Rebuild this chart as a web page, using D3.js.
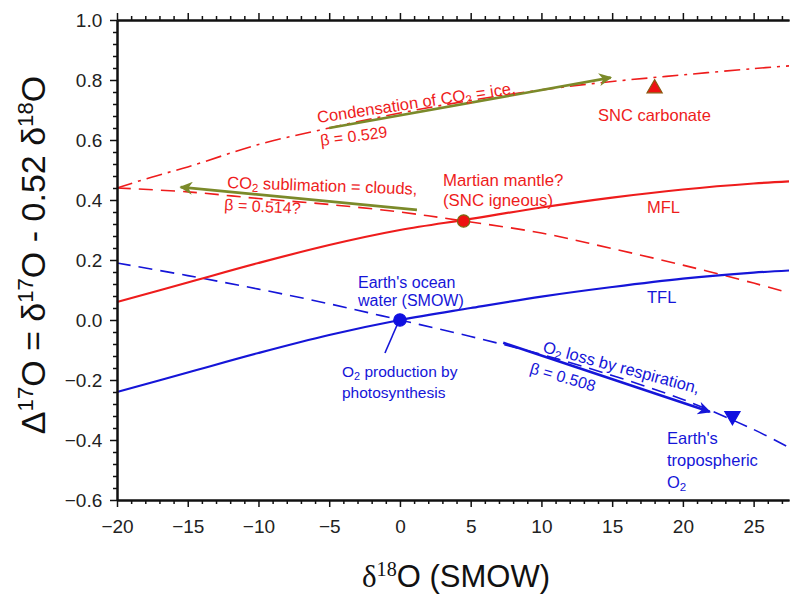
<!DOCTYPE html>
<html>
<head>
<meta charset="utf-8">
<script src="https://cdn.jsdelivr.net/npm/d3@7"></script>
<style>
  body{margin:0;background:#fff}
  svg{display:block}
  text{font-family:"Liberation Sans",Arial,sans-serif}
</style>
</head>
<body>
<svg id="chart" width="792" height="597"></svg>
<script>
// curves: [d18O, D17O]
const mfl = [[-20,0.06],[-15,0.125],[-10,0.19],[-5,0.25],[0,0.30],[5,0.337],[10,0.375],[15,0.408],[20,0.435],[25,0.455],[27.5,0.462]]
const tfl = [[-20,-0.24],[-15,-0.175],[-10,-0.11],[-5,-0.05],[0,0],[5,0.04],[10,0.078],[15,0.11],[20,0.138],[25,0.158],[27.5,0.165]]
const respiration = [[-20,0.19],[-15,0.148],[-10,0.103],[-5,0.054],[0,0],[5,-0.055],[10,-0.115],[15,-0.185],[20,-0.265],[25,-0.365],[27.5,-0.425]]
const sublimation = [[-20,0.44],[-15,0.427],[-10,0.405],[-5,0.385],[0,0.36],[4.5,0.33],[10,0.29],[15,0.238],[20,0.183],[25,0.123],[27.5,0.09]]
const condensation = [[-20,0.44],[-17.5,0.477],[-15,0.51],[-10,0.585],[-5,0.64],[0,0.69],[5,0.732],[10,0.767],[15,0.795],[20,0.817],[25,0.838],[27.5,0.847]]

const xTicks = [-20,-15,-10,-5,0,5,10,15,20,25]
const yTicks = [-0.6,-0.4,-0.2,0.0,0.2,0.4,0.6,0.8,1.0]

const points = [
  {x:0, y:0, shape:'circle', fill:'#1010e0', stroke:'#1010e0'},
  {x:4.5, y:0.33, shape:'circle', fill:'#ee1111', stroke:'#7a6a10'},
  {x:18, y:0.772, shape:'triangle', fill:'#ee1111', stroke:'#8a5a10'},
  {x:23.5, y:-0.32, shape:'triangleDown', fill:'#1010e0', stroke:'#1010e0'}
]

// process arrows [from, to]
const arrows = [
  {from:[-5,0.64], to:[14.9,0.808], color:'#7b8a2a'},
  {from:[1.2,0.367], to:[-15.5,0.443], color:'#7b8a2a'},
  {from:[7.3,-0.076], to:[21.9,-0.306], color:'#1515d8'}
]

const red = '#ee1c1c', blue = '#1515d8'
const svg = d3.select('#chart')
const x = d3.scaleLinear().domain([-20,27.5]).range([117,789])
const y = d3.scaleLinear().domain([-0.6,1.0]).range([500,20])

const line = d3.line().x(d=>x(d[0])).y(d=>y(d[1])).curve(d3.curveCatmullRom)

const defs = svg.append('defs')
arrows.forEach((a,i)=>{
  defs.append('marker').attr('id','ah'+i).attr('viewBox','0 0 10 10')
    .attr('refX',9).attr('refY',5).attr('markerWidth',6.5).attr('markerHeight',5)
    .attr('markerUnits','strokeWidth').attr('orient','auto')
    .append('path').attr('d','M0,0 L10,5 L0,10 L3,5 Z').attr('fill',a.color)
})

const g = svg.append('g')
g.append('path').datum(condensation).attr('d',line).attr('fill','none').attr('stroke',red).attr('stroke-width',1.6).attr('stroke-dasharray','16,6,3,6')
g.append('path').datum(sublimation).attr('d',line).attr('fill','none').attr('stroke',red).attr('stroke-width',1.6).attr('stroke-dasharray','14,8')
g.append('path').datum(respiration).attr('d',line).attr('fill','none').attr('stroke',blue).attr('stroke-width',1.6).attr('stroke-dasharray','14,8')
g.append('path').datum(mfl).attr('d',line).attr('fill','none').attr('stroke',red).attr('stroke-width',2.2)
g.append('path').datum(tfl).attr('d',line).attr('fill','none').attr('stroke',blue).attr('stroke-width',2.2)

arrows.forEach((a,i)=>{
  g.append('line').attr('x1',x(a.from[0])).attr('y1',y(a.from[1])).attr('x2',x(a.to[0])).attr('y2',y(a.to[1]))
    .attr('stroke',a.color).attr('stroke-width',2.6).attr('marker-end','url(#ah'+i+')')
})

// leader line to photosynthesis label
g.append('line').attr('x1',x(0)-2).attr('y1',y(0)+3).attr('x2',x(0)-15).attr('y2',y(0)+33).attr('stroke',blue).attr('stroke-width',1.6)

const sym = {circle:d3.symbolCircle, triangle:d3.symbolTriangle, triangleDown:d3.symbolTriangle}
points.forEach(p=>{
  g.append('path').attr('d',d3.symbol().type(sym[p.shape]).size(p.shape==='circle'?120:100)())
    .attr('transform',`translate(${x(p.x)},${y(p.y)})${p.shape==='triangleDown'?' rotate(180)':''}`)
    .attr('fill',p.fill).attr('stroke',p.stroke).attr('stroke-width',1.2)
})

// axes
const tickFont = 19
const minorX = d3.range(-20,28,1).filter(v=>v%5!==0)
const minorY = d3.range(-0.6,1.0001,0.04).filter(v=>Math.abs(Math.round(v*5)-v*5)>1e-6)

const axBottom = svg.append('g').attr('transform','translate(0,500)')
axBottom.call(d3.axisBottom(x).tickValues(xTicks).tickSize(7).tickSizeOuter(0).tickFormat(d3.format('d')))
axBottom.append('g').call(d3.axisBottom(x).tickValues(minorX).tickSize(4).tickSizeOuter(0).tickFormat(''))
const axTop = svg.append('g').attr('transform','translate(0,20)')
axTop.call(d3.axisTop(x).tickValues(xTicks).tickSize(7).tickSizeOuter(0).tickFormat(''))
axTop.append('g').call(d3.axisTop(x).tickValues(minorX).tickSize(4).tickSizeOuter(0).tickFormat(''))
const axLeft = svg.append('g').attr('transform','translate(117,0)')
axLeft.call(d3.axisLeft(y).tickValues(yTicks).tickSize(7).tickSizeOuter(0).tickFormat(d3.format('.1f')))
axLeft.append('g').call(d3.axisLeft(y).tickValues(minorY).tickSize(4).tickSizeOuter(0).tickFormat(''))

svg.selectAll('.domain').attr('stroke','#111').attr('stroke-width',2)
svg.selectAll('.tick line').attr('stroke','#111').attr('stroke-width',1.5)
svg.selectAll('.tick text').attr('font-size',tickFont).attr('fill','#222').attr('font-family','"Liberation Sans",Arial,sans-serif')
axBottom.selectAll('.tick text').attr('dy','1.2em')
axLeft.selectAll('.tick text').attr('dx','-0.25em')

// annotations
function label(txt, px, py, color, opts={}){
  const t = svg.append('text').attr('x',px).attr('y',py).attr('fill',color)
    .attr('font-size',opts.size||16.5).attr('text-anchor',opts.anchor||'start')
  if(opts.rot) t.attr('transform',`rotate(${opts.rot},${px},${py})`)
  txt.forEach(part=>{
    if(typeof part==='string') t.append('tspan').text(part)
    else t.append('tspan').attr('baseline-shift',part.shift||'-25%').attr('font-size','70%').text(part.sub)
  })
  return t
}
label(['Condensation of CO',{sub:'2'},' = ice,'],318,123,red,{rot:-8.5})
label(['β = 0.529'],321,146,red,{rot:-7.5,size:16})
label(['SNC carbonate'],598,121,red)
label(['CO',{sub:'2'},' sublimation = clouds,'],227,188,red,{rot:2})
label(['β = 0.514?'],224,210,red,{rot:3,size:16})
label(['Martian mantle?'],443,186,red,{size:16.8})
label(['(SNC igneous)'],443,206,red,{size:16.8})
label(['MFL'],647,213,red)
label(['Earth\'s ocean'],358,288,blue,{size:16})
label(['water (SMOW)'],358,306,blue,{size:16})
label(['TFL'],647,303,blue)
label(['O',{sub:'2'},' production by'],342,377,blue,{size:15.5})
label(['photosynthesis'],342,398,blue,{size:15.5})
label(['O',{sub:'2'},' loss by respiration,'],542,352,blue,{rot:15})
label(['β = 0.508'],529,373,blue,{rot:16,size:16})
label(['Earth\'s'],667,444,blue,{size:16.5})
label(['tropospheric'],667,466,blue,{size:16.5})
label(['O',{sub:'2'}],667,488,blue,{size:16.5})

// axis titles
const yt = svg.append('text').attr('transform','translate(45,255) rotate(-90)').attr('text-anchor','middle')
  .attr('font-size',34).attr('fill','#111')
yt.append('tspan').text('Δ')
yt.append('tspan').attr('baseline-shift','super').attr('font-size','65%').text('17')
yt.append('tspan').text('O = δ')
yt.append('tspan').attr('baseline-shift','super').attr('font-size','65%').text('17')
yt.append('tspan').text('O - 0.52 δ')
yt.append('tspan').attr('baseline-shift','super').attr('font-size','65%').text('18')
yt.append('tspan').text('O')

const xt = svg.append('text').attr('x',456).attr('y',587).attr('text-anchor','middle').attr('font-size',31).attr('fill','#111')
xt.append('tspan').attr('font-family','"Liberation Serif",serif').text('δ')
xt.append('tspan').attr('font-family','"Liberation Serif",serif').attr('baseline-shift','super').attr('font-size','65%').text('18')
xt.append('tspan').text('O (SMOW)')
</script>
</body>
</html>
